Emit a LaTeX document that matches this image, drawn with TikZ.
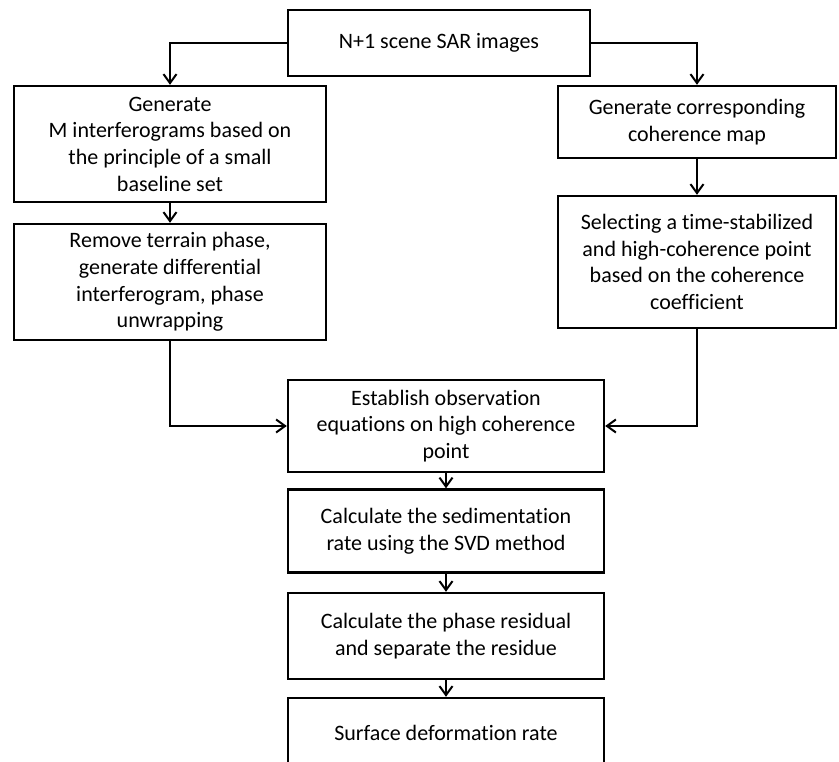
\documentclass[tikz,border=0pt]{standalone}
\usepackage{fontspec}
\setmainfont{Carlito}[Ligatures=NoCommon]
\usetikzlibrary{arrows.meta}
\begin{document}
\begin{tikzpicture}[x=1pt,y=-1pt,
  box/.style={draw=black,line width=2.4pt,rectangle,inner sep=0pt,align=center,
    font=\fontsize{22}{26.7}\selectfont},
  arr/.style={line width=2pt,-{Straight Barb[length=9pt,width=13pt,line width=2pt]}}]
\useasboundingbox (0,0) rectangle (839,762);
\clip (0,0) rectangle (839,762);
\fill[white] (0,0) rectangle (839,762);
\node[box,minimum width=302pt,minimum height=66pt] (top) at (439,43) {N+1 scene SAR images};
\node[box,minimum width=312pt,minimum height=116pt] (b1) at (170,144) {Generate\\M interferograms based on\\the principle of a small\\baseline set};
\node[box,minimum width=312pt,minimum height=116pt] (b2) at (170,282) {Remove terrain phase,\\generate differential\\interferogram, phase\\unwrapping};
\node[box,minimum width=278pt,minimum height=72pt] (b3) at (697,122) {Generate corresponding\\coherence map};
\node[box,minimum width=278pt,minimum height=132pt] (b4) at (697,262) {Selecting a time-stabilized\\and high-coherence point\\based on the coherence\\coefficient};
\node[box,minimum width=316pt,minimum height=92pt] (est) at (446,426) {Establish observation\\equations on high coherence\\point};
\node[box,minimum width=316pt,minimum height=83pt] (c1) at (446,531) {Calculate the sedimentation\\rate using the SVD method};
\node[box,minimum width=316pt,minimum height=86pt] (c2) at (446,636) {Calculate the phase residual\\and separate the residue};
\node[box,minimum width=316pt,minimum height=70pt] (sd) at (446,733) {Surface deformation rate};
\draw[arr] (top.west) -| (b1.north);
\draw[arr] (top.east) -| (b3.north);
\draw[arr] (b1) -- (b2);
\draw[arr] (b3) -- (b4);
\draw[arr] (b2.south) |- (est.west);
\draw[arr] (b4.south) |- (est.east);
\draw[arr] (est) -- (c1);
\draw[arr] (c1) -- (c2);
\draw[arr] (c2) -- (sd);
\end{tikzpicture}
\end{document}
